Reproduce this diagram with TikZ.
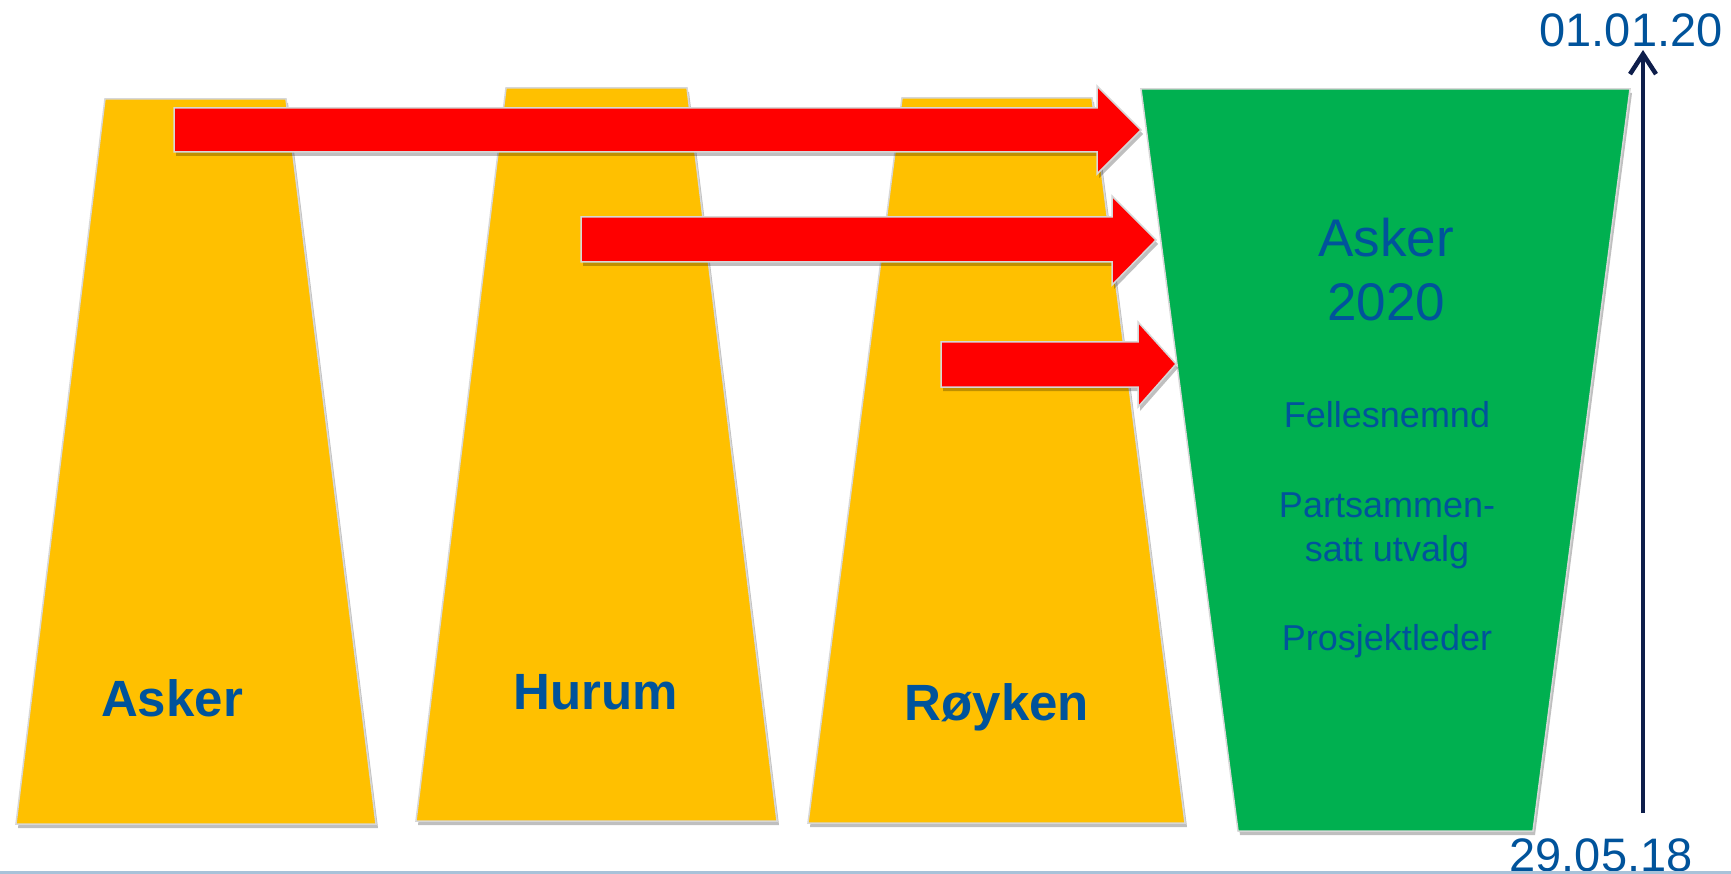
\documentclass[tikz,border=0pt]{standalone}
\usepackage{fontspec}
\setmainfont{Liberation Sans}
\usetikzlibrary{arrows.meta,shadows}
\definecolor{ylw}{RGB}{255,192,0}
\definecolor{grn}{RGB}{0,176,80}
\definecolor{rd}{RGB}{255,0,0}
\definecolor{txtblue}{RGB}{0,83,155}
\definecolor{navy}{RGB}{14,30,75}
\definecolor{lineblue}{RGB}{168,194,217}
\definecolor{edge}{RGB}{215,215,215}
\tikzset{
  blockshape/.style={draw=edge, line width=1.5pt, line join=miter,
    drop shadow={shadow xshift=2pt, shadow yshift=-4pt, opacity=0.25, fill=black}},
  yshape/.style={blockshape, fill=ylw},
  gshape/.style={blockshape, fill=grn},
  bigarrow/.style={blockshape, fill=rd},
  townlabel/.style={font=\fontsize{51}{55}\selectfont\bfseries, text=txtblue, anchor=base, inner sep=0pt},
  newlabel/.style={font=\fontsize{53}{63}\selectfont, text=txtblue, anchor=base, inner sep=0pt},
  smalllabel/.style={font=\fontsize{36}{44}\selectfont, text=txtblue, anchor=base, inner sep=0pt},
  datelabel/.style={font=\fontsize{47}{52}\selectfont, text=txtblue, anchor=base, inner sep=0pt},
  timeline/.style={draw=navy, line width=4.5pt, -{Straight Barb[length=20pt,width=26pt,line width=4.5pt]}}
}
\begin{document}
\begin{tikzpicture}[x=1pt,y=-1pt]
\useasboundingbox (0,0) rectangle (1731,874);
\fill[white] (0,0) rectangle (1731,874);
% yellow trapezoids
\path[yshape] (105,99) -- (286,99) -- (376,824) -- (16,824) -- cycle;
\path[yshape] (506,88) -- (687,88) -- (777,821) -- (416,821) -- cycle;
\path[yshape] (902,98) -- (1092,98) -- (1185,823) -- (808,823) -- cycle;
% green trapezoid
\path[gshape] (1141,89) -- (1630,89) -- (1533,831) -- (1238,831) -- cycle;
% red block arrows
\path[bigarrow] (174,108) -- (1097,108) -- (1097,86) -- (1141,130) -- (1097,174) -- (1097,152) -- (174,152) -- cycle;
\path[bigarrow] (581,217) -- (1112,217) -- (1112,196) -- (1156,240) -- (1112,285) -- (1112,262) -- (581,262) -- cycle;
\path[bigarrow] (941,342) -- (1138,342) -- (1138,322) -- (1176,364) -- (1138,407) -- (1138,387) -- (941,387) -- cycle;
% labels
\node[townlabel] (asker) at (172,716) {Asker};
\node[townlabel] (hurum) at (596,709) {Hurum};
\node[townlabel] (royken) at (997,720) {Røyken};
\node[newlabel] (asker2020a) at (1386,257) {Asker};
\node[newlabel] (asker2020b) at (1386,320) {2020};
\node[smalllabel] (felles) at (1387,427) {Fellesnemnd};
\node[smalllabel] (parts1) at (1387,517) {Partsammen-};
\node[smalllabel] (parts2) at (1387,561) {satt utvalg};
\node[smalllabel] (prosj) at (1387,650) {Prosjektleder};
% timeline
\coordinate (tlstart) at (1643,813);
\coordinate (tlend) at (1643,50);
\draw[timeline] (tlstart) -- (tlend);
\node[datelabel] (d20) at (1631,47) {01.01.20};
\node[datelabel] (d18) at (1601,871) {29.05.18};
% bottom rule
\coordinate (rl) at (0,872.5);
\coordinate (rr) at (1731,872.5);
\draw[lineblue, line width=3pt] (rl) -- (rr);
\end{tikzpicture}
\end{document}
